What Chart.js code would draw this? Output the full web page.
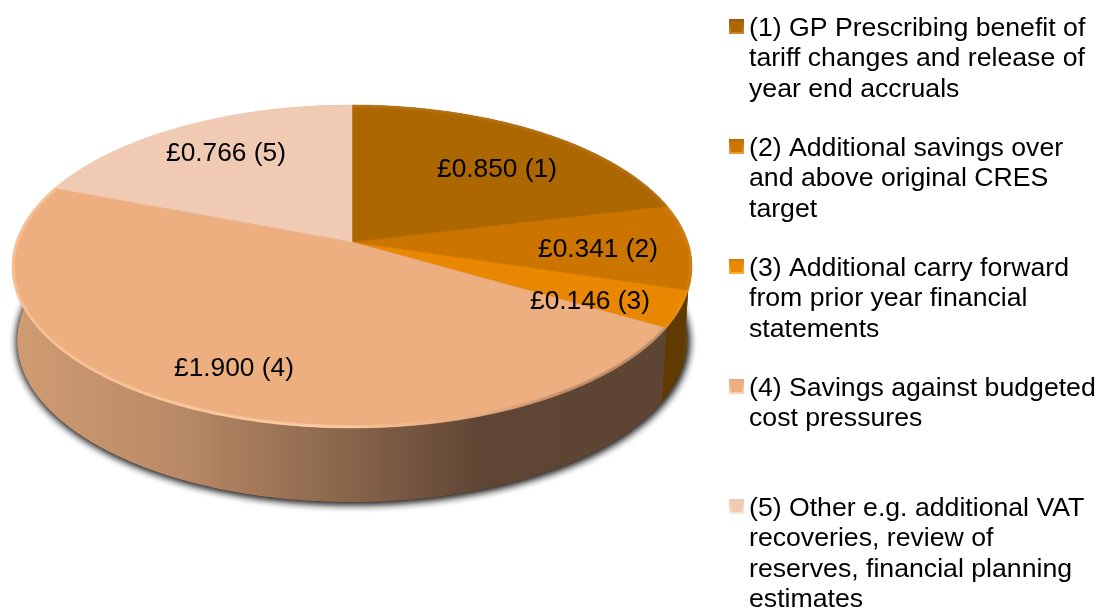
<!DOCTYPE html>
<html>
<head>
<meta charset="utf-8">
<title>Savings breakdown</title>
<script src="https://cdn.jsdelivr.net/npm/chart.js@4/dist/chart.umd.min.js"></script>
<style>
  html, body { margin: 0; padding: 0; background: #fff; overflow: hidden; }
  canvas { display: block; }
</style>
</head>
<body>
<canvas id="pie" width="1100" height="608"></canvas>
<script>
const categories = [
  ['(1) GP Prescribing benefit of', 'tariff changes and release of', 'year end accruals'],
  ['(2) Additional savings over', 'and above original CRES', 'target'],
  ['(3) Additional carry forward', 'from prior year financial', 'statements'],
  ['(4) Savings against budgeted', 'cost pressures'],
  ['(5) Other e.g. additional VAT', 'recoveries, review of', 'reserves, financial planning', 'estimates'],
];
const values = [0.850, 0.341, 0.146, 1.900, 0.766];
const colors = ['#AD6700', '#CB7500', '#E98700', '#EDAE80', '#F0CAB2'];
const wallColors = ['#6A4000', '#6F4400', '#603A00', null, '#C9A58E'];
const swatchTop = ['#96590A', '#B56A08', '#D27A04', '#E4A77C', '#EBC8B2'];
const swatchBottom = ['#C98A2E', '#EBA23C', '#FFB030', '#FFD3AC', '#FBE6D8'];

// where each value label sits (text centre)
const labelPos = [[497, 168], [598, 248], [590, 300], [234, 367], [226, 152]];

const LABEL_FONT = '26.3px "Liberation Sans", Arial, sans-serif';
const LEGEND_FONT = '26.67px "Liberation Sans", Arial, sans-serif';

// perspective view of the pie disc, fitted against the reference
const VIEW = { cx: 352, cy: 242, rx: 336, ry: 157.8, tilt: 0.152, depth: 74, shrink: 0.985 };

function project(u, v, low) {
  const w = 1 - VIEW.tilt * v;
  const s = low ? VIEW.shrink : 1;
  return [
    VIEW.cx + s * VIEW.rx * u / w,
    VIEW.cy + VIEW.ry * v / w + (low ? VIEW.depth : 0),
  ];
}

function tracePts(ctx, a0, a1, low, first) {
  const n = Math.max(2, Math.ceil(Math.abs(a1 - a0) / 0.01));
  for (let i = 0; i <= n; i++) {
    const a = a0 + (a1 - a0) * i / n;
    const p = project(Math.cos(a), Math.sin(a), low);
    if (first && i === 0) ctx.moveTo(p[0], p[1]);
    else ctx.lineTo(p[0], p[1]);
  }
}

function sideGradient(ctx) {
  const g = ctx.createLinearGradient(17, 0, 665, 0);
  g.addColorStop(0, '#CF9B73');
  g.addColorStop(0.25, '#B98A66');
  g.addColorStop(0.52, '#86634A');
  g.addColorStop(0.72, '#5F4534');
  g.addColorStop(1, '#5E4433');
  return g;
}

function facePath(ctx, arc) {
  const c = project(0, 0, false);
  ctx.beginPath();
  ctx.moveTo(c[0], c[1]);
  tracePts(ctx, arc.startAngle, arc.endAngle, false, false);
  ctx.closePath();
}

const pie3d = {
  id: 'pie3d',
  beforeDatasetsDraw(chart) {
    const ctx = chart.ctx;
    const arcs = chart.getDatasetMeta(0).data;

    // drop shadow under the base
    ctx.save();
    ctx.shadowColor = 'rgba(30,30,30,1)';
    ctx.shadowBlur = 9;
    ctx.shadowOffsetX = 1;
    ctx.shadowOffsetY = 1;
    ctx.fillStyle = '#5E4433';
    for (let k = 0; k < 2; k++) {
      ctx.beginPath();
      tracePts(ctx, 0, Math.PI * 2, true, true);
      ctx.closePath();
      ctx.fill();
    }
    ctx.restore();

    // side walls, back to front
    [0, 4, 1, 2, 3].forEach(i => {
      const arc = arcs[i];
      ctx.fillStyle = wallColors[i] || sideGradient(ctx);
      ctx.beginPath();
      tracePts(ctx, arc.startAngle, arc.endAngle, false, true);
      tracePts(ctx, arc.endAngle, arc.startAngle, true, false);
      ctx.closePath();
      ctx.fill();
    });

    // top faces
    arcs.forEach((arc, i) => {
      ctx.fillStyle = colors[i];
      ctx.strokeStyle = colors[i];
      ctx.lineWidth = 0.5;
      facePath(ctx, arc);
      ctx.fill();
      ctx.stroke();
    });

    // soft bevel inside the rim of each face
    arcs.forEach((arc, i) => {
      ctx.save();
      facePath(ctx, arc);
      ctx.clip();
      ctx.lineCap = 'butt';
      if (i === 3) {
        const rim = ctx.createLinearGradient(12, 0, 560, 0);
        rim.addColorStop(0, 'rgba(255,206,160,0.4)');
        rim.addColorStop(0.55, 'rgba(255,218,176,0.55)');
        rim.addColorStop(0.75, 'rgba(255,215,175,0.1)');
        rim.addColorStop(1, 'rgba(120,90,70,0.25)');
        ctx.strokeStyle = rim;
      } else {
        ctx.strokeStyle = 'rgba(255,225,190,0.06)';
      }
      [6, 3].forEach(w => {
        ctx.lineWidth = w;
        ctx.beginPath();
        tracePts(ctx, arc.startAngle, arc.endAngle, false, true);
        ctx.stroke();
      });
      ctx.restore();
    });

    return false;
  },
  afterDraw(chart) {
    const ctx = chart.ctx;
    ctx.save();
    ctx.fillStyle = '#000';
    ctx.textBaseline = 'alphabetic';

    // value labels
    ctx.font = LABEL_FONT;
    ctx.textAlign = 'center';
    values.forEach((v, i) => {
      const text = '£' + v.toFixed(3) + ' (' + (i + 1) + ')';
      ctx.fillText(text, labelPos[i][0], labelPos[i][1] + 9);
    });

    // legend
    ctx.font = LEGEND_FONT;
    ctx.textAlign = 'left';
    categories.forEach((lines, i) => {
      const top = 19 + i * 120;
      const edge = ctx.createLinearGradient(729, top, 729, top + 15);
      edge.addColorStop(0, swatchTop[i]);
      edge.addColorStop(1, swatchBottom[i]);
      ctx.fillStyle = edge;
      ctx.fillRect(729, top, 15, 15);
      ctx.fillStyle = colors[i];
      ctx.fillRect(731, top + 2, 11, 11);
      ctx.fillStyle = '#000';
      lines.forEach((line, j) => {
        ctx.fillText(line, 749, top + 17 + j * 30.3);
      });
    });
    ctx.restore();
  },
};

new Chart(document.getElementById('pie'), {
  type: 'pie',
  data: {
    labels: categories.map(c => c.join(' ')),
    datasets: [{ data: values, backgroundColor: colors, borderWidth: 0 }],
  },
  options: {
    responsive: false,
    animation: false,
    layout: { padding: { left: 152, right: 548, top: 42, bottom: 166 } },
    plugins: { legend: { display: false }, tooltip: { enabled: false } },
  },
  plugins: [pie3d],
});
</script>
</body>
</html>
